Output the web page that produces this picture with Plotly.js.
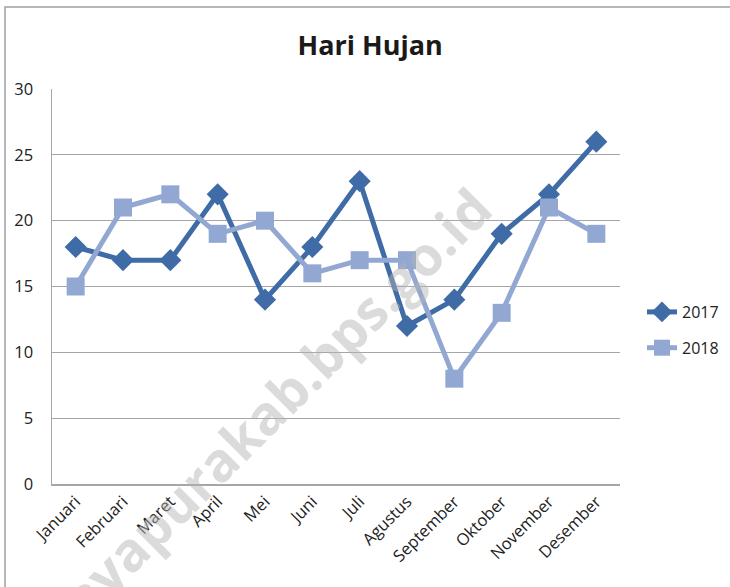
<!DOCTYPE html>
<html>
<head>
<meta charset="utf-8">
<script src="https://cdn.plot.ly/plotly-3.0.1.min.js"></script>
<style>
html,body{margin:0;padding:0;background:#fff;}
#chart{width:730px;height:587px;}
</style>
</head>
<body>
<div id="chart"></div>
<script>
const months = ["Januari","Februari","Maret","April","Mei","Juni","Juli","Agustus","September","Oktober","November","Desember"];
const hujan2017 = [18,17,17,22,14,18,23,12,14,19,22,26];
const hujan2018 = [15,21,22,19,20,16,17,17,8,13,21,19];
const yTicks = [0,5,10,15,20,25,30];

const traces = [
  {x: months, y: hujan2017, name: "2017", type: "scatter", mode: "lines+markers", legendgroup: "a",
   line: {color: "#3f6ca6", width: 5}, marker: {symbol: "diamond", size: 17, color: "#3f6ca6"}},
  {x: months, y: hujan2018, name: "2018", type: "scatter", mode: "lines+markers", legendgroup: "b",
   line: {color: "#92a8d2", width: 5}, marker: {symbol: "square", size: 18, color: "#92a8d2"}}
];

const layout = {
  width: 730, height: 587,
  margin: {l: 52, r: 110, t: 89, b: 103, autoexpand: false},
  paper_bgcolor: "#fff", plot_bgcolor: "#fff",
  font: {family: "Open Sans, sans-serif", size: 14, color: "#222"},
  title: {text: "<b>Hari Hujan</b>", x: 0.507, xanchor: "center", y: 0.922, yanchor: "middle",
          font: {family: "Open Sans, sans-serif", size: 27, color: "#1a1a1a"}},
  xaxis: {type: "category", range: [-0.5, 11.5], tickangle: -45, showgrid: false, showline: true,
          linecolor: "#a6a6a6", linewidth: 1.5, ticks: "",
          tickfont: {size: 16.5, family: "Open Sans, sans-serif", color: "#222"}},
  yaxis: {range: [0, 30], tickvals: yTicks, showgrid: true, gridcolor: "#a6a6a6", gridwidth: 1.2,
          showline: true, linecolor: "#a6a6a6", linewidth: 1.5, zeroline: false, ticks: "", ticklabelstandoff: 14,
          tickfont: {size: 16.5, family: "Open Sans, sans-serif", color: "#222"}},
  legend: {xref: "container", yref: "container", x: 642 / 730, xanchor: "left", y: 1 - 330 / 587, yanchor: "middle",
           font: {size: 16, color: "#222"}, itemwidth: 30, tracegroupgap: 12, traceorder: "grouped"},
  showlegend: true,
  shapes: [{type: "rect", xref: "paper", yref: "paper", x0: -0.0827, x1: 1.4, y0: -0.6, y1: 1.2076,
            line: {color: "#a0a0a0", width: 1.5}}],
  annotations: [{text: "<b>jayapurakab.bps.go.id</b>", xref: "paper", yref: "paper",
                 x: (268 - 52) / 568, y: (484 - 410) / 395, xanchor: "center", yanchor: "middle",
                 showarrow: false, textangle: -45,
                 font: {size: 54, family: "Open Sans, sans-serif", color: "rgba(180,180,180,0.48)"}}]
};

Plotly.newPlot("chart", traces, layout, {displayModeBar: false, staticPlot: true});
</script>
</body>
</html>
